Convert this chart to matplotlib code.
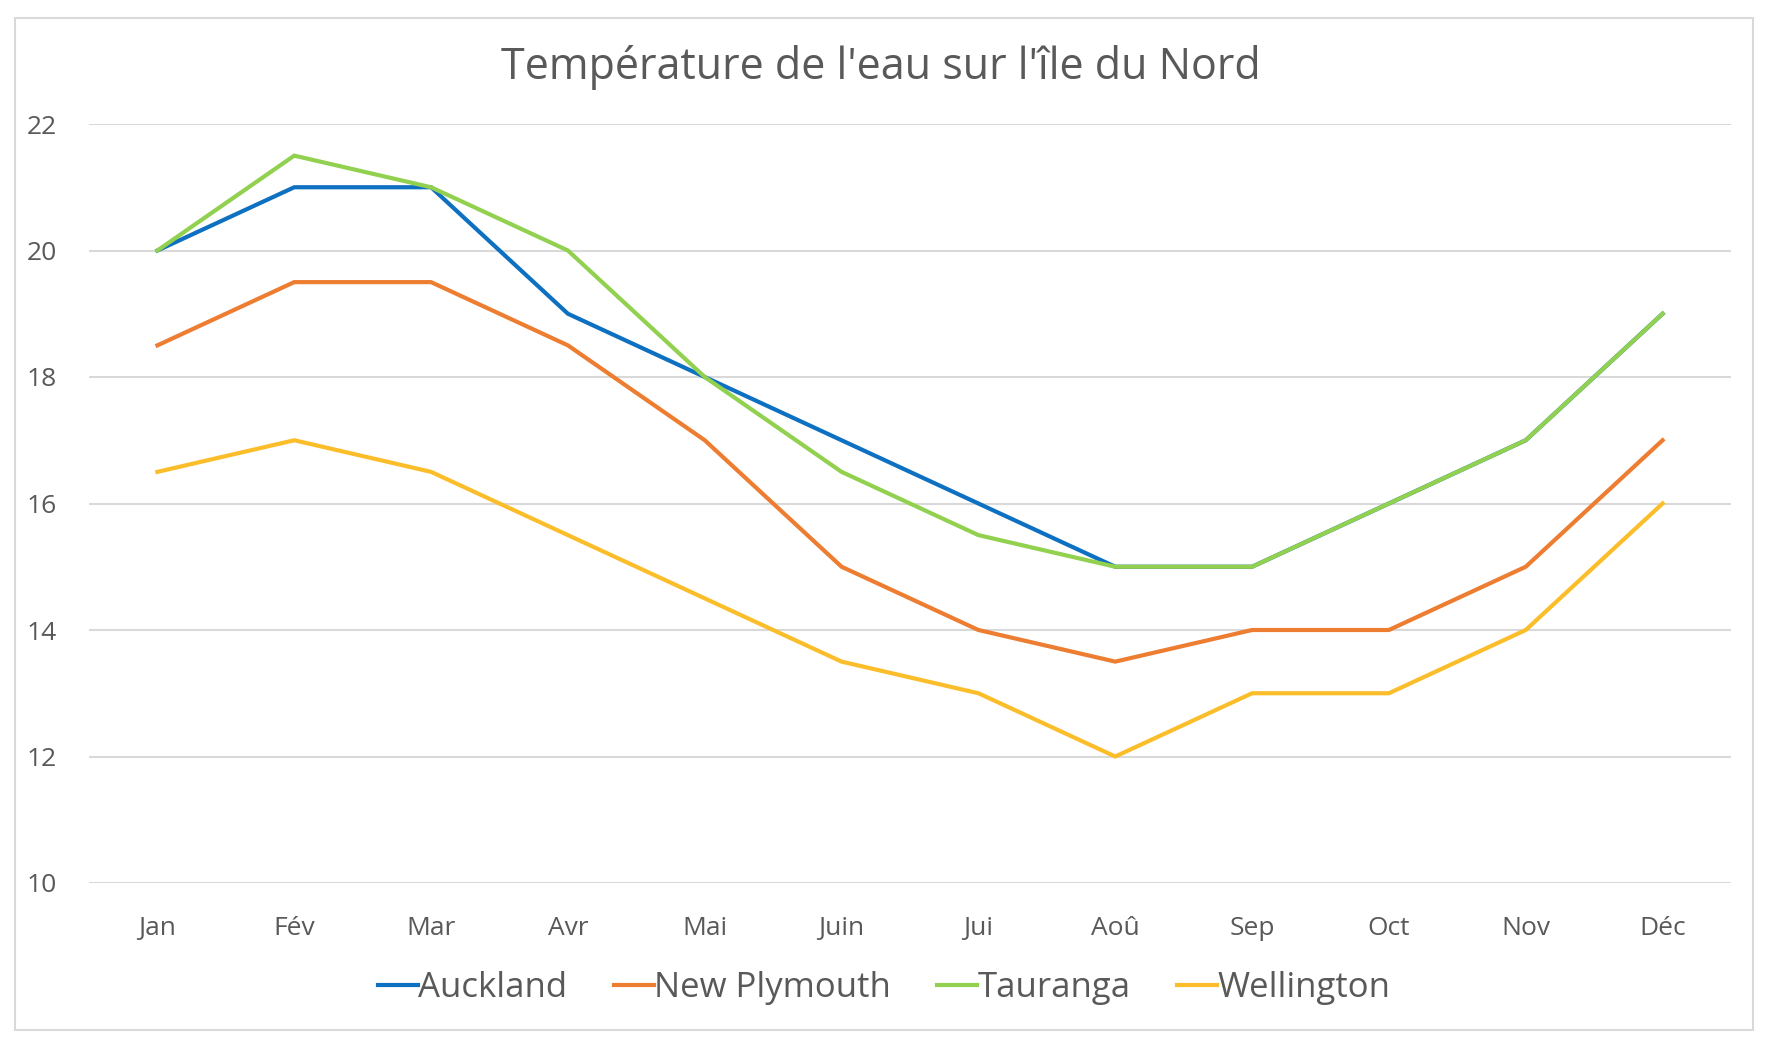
import numpy as np
import matplotlib
matplotlib.use("Agg")
import matplotlib.pyplot as plt
from matplotlib.patches import Rectangle

months = ["Jan", "Fév", "Mar", "Avr", "Mai", "Juin", "Jui", "Aoû", "Sep", "Oct", "Nov", "Déc"]
auckland = [20, 21, 21, 19, 18, 17, 16, 15, 15, 16, 17, 19]
new_plymouth = [18.5, 19.5, 19.5, 18.5, 17, 15, 14, 13.5, 14, 14, 15, 17]
tauranga = [20, 21.5, 21, 20, 18, 16.5, 15.5, 15, 15, 16, 17, 19]
wellington = [16.5, 17, 16.5, 15.5, 14.5, 13.5, 13, 12, 13, 13, 14, 16]
y_ticks = [10, 12, 14, 16, 18, 20, 22]

series = [("Auckland", auckland, "#0E70C0"),
          ("New Plymouth", new_plymouth, "#ED7D31"),
          ("Tauranga", tauranga, "#92D050"),
          ("Wellington", wellington, "#FBBE2A")]

text_col = "#595959"
grid_col = "#D9D9D9"
plt.rcParams['font.family'] = ["Open Sans", "DejaVu Sans"]

W, H = 1773, 1047
fig = plt.figure(figsize=(W / 100, H / 100), dpi=100)
ax = fig.add_axes([89 / W, 1 - 883 / H, (1731 - 89) / W, (883 - 124) / H])

x = np.arange(len(months))
for name, vals, col in series:
    ax.plot(x, vals, color=col, lw=3.0, label=name, solid_joinstyle="miter")

ax.set_xlim(-0.5, len(months) - 0.5)
ax.set_ylim(10, 22)
ax.set_yticks(y_ticks)
ax.set_xticks(x)
ax.set_xticklabels(months)
ax.yaxis.grid(True, color=grid_col, lw=1.5)
ax.set_axisbelow(True)
ax.tick_params(length=0, labelsize=19, colors=text_col)
ax.tick_params(axis="y", pad=23)
ax.tick_params(axis="x", pad=24)
for sp in ax.spines.values():
    sp.set_visible(False)

fig.text(881 / W, 1 - 68 / H, "Température de l'eau sur l'île du Nord",
         ha="center", va="center", fontsize=31, color=text_col)

fig.legend(loc="center", bbox_to_anchor=(884 / W, 1 - 988 / H), ncol=4,
           frameon=False, fontsize=25, labelcolor=text_col,
           handlelength=1.15, handletextpad=0.0, columnspacing=1.35)

fig.patches.append(Rectangle((15 / W, 1 - 1030 / H), (1753 - 15) / W, (1030 - 18) / H,
                             transform=fig.transFigure, fill=False,
                             edgecolor=grid_col, lw=1.5))

fig.savefig("out.png", dpi=100, facecolor="white")
